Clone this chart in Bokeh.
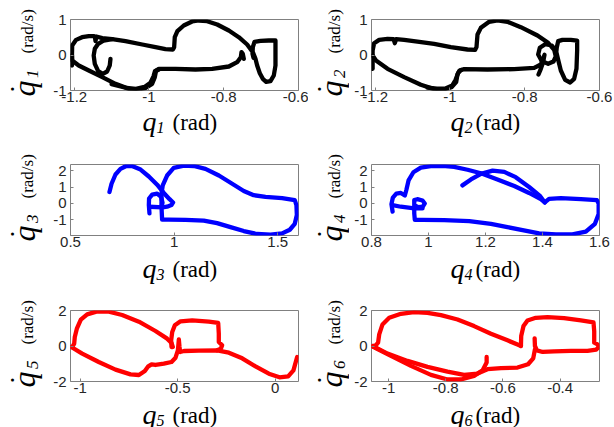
import math
from bokeh.plotting import figure
from bokeh.models import Range1d, FixedTicker, Label
from bokeh.layouts import column, row
from bokeh.embed import file_html
from bokeh.resources import INLINE

# ---------------- data ----------------
q1_a = [-1.206, -1.206, -1.2055, -1.195, -1.179, -1.161, -1.148, -1.145, -1.143, -1.141, -1.125, -1.0985,
        -1.063, -1.018, -0.9826, -0.956, -0.936, -0.9327, -0.931, -0.924, -0.907, -0.8845, -0.8667, -0.8444,
        -0.8176, -0.7864, -0.7597, -0.7374, -0.7222, -0.7151, -0.7106, -0.7035, -0.6955, -0.6865, -0.675,
        -0.6661, -0.6616, -0.6616, -0.6794, -0.7017, -0.7178, -0.7222, -0.7231, -0.7204]
dq1_a = [-0.296, 0.033, 0.268, 0.427, 0.502, 0.531, 0.531, 0.521, 0.39, 0.521, 0.474, 0.446, 0.39, 0.296,
         0.221, 0.164, 0.155, 0.221, 0.502, 0.671, 0.831, 0.944, 0.972, 0.953, 0.859, 0.69, 0.502, 0.296,
         0.08, -0.108, -0.296, -0.512, -0.671, -0.756, -0.737, -0.577, -0.296, 0.408, 0.408, 0.399, 0.371,
         0.221, 0.033, -0.08]
q1_b = [-1.206, -1.2055, -1.188, -1.161, -1.125, -1.0896, -1.054, -1.0317, -1.009, -0.9915, -0.9844, -0.981,
        -0.9737, -0.929, -0.8756, -0.831, -0.7864, -0.7641, -0.7543, -0.7525, -0.749, -0.7463]
dq1_b = [-0.014, -0.155, -0.296, -0.437, -0.624, -0.812, -0.953, -0.981, -0.925, -0.812, -0.624, -0.437,
         -0.39, -0.39, -0.408, -0.39, -0.324, -0.202, -0.061, 0.08, 0.033, -0.108]
q1_c = [-1.103, -1.105, -1.112, -1.1235, -1.136, -1.145, -1.148, -1.145, -1.136, -1.121, -1.0985]
dq1_c = [-0.108, -0.296, -0.465, -0.531, -0.455, -0.249, -0.014, 0.174, 0.315, 0.408, 0.446]
q1_d = [-1.1, -1.06, -1.035, -1.012, -0.996, -0.988, -0.984, -0.975]
dq1_d = [-0.82, -0.93, -0.955, -0.9, -0.78, -0.6, -0.45, -0.42]

q2_a = [-1.207, -1.207, -1.203, -1.1895, -1.167, -1.151, -1.1476, -1.144, -1.1226, -1.087, -1.0424, -0.9978,
        -0.9532, -0.9327, -0.9291, -0.9264, -0.9175, -0.8952, -0.8729, -0.8462, -0.8105, -0.7659, -0.7374,
        -0.7213, -0.7169, -0.7231, -0.7374, -0.7543, -0.7641, -0.7597, -0.7454, -0.7276, -0.716, -0.7106,
        -0.7035, -0.6919, -0.6785, -0.6678, -0.6616, -0.6598, -0.6598, -0.6767, -0.699, -0.7106, -0.7142, -0.716]
dq2_a = [-0.39, 0.127, 0.333, 0.427, 0.455, 0.446, 0.333, 0.446, 0.427, 0.38, 0.315, 0.221, 0.155, 0.146,
         0.221, 0.577, 0.765, 0.934, 0.972, 0.934, 0.784, 0.549, 0.343, 0.146, -0.042, -0.183, -0.249, -0.174,
         0.014, 0.202, 0.305, 0.268, 0.108, -0.136, -0.437, -0.7, -0.775, -0.671, -0.39, 0.127, 0.408, 0.427,
         0.427, 0.39, 0.221, 0.033]
q2_b = [-1.207, -1.198, -1.167, -1.1226, -1.078, -1.0424, -1.0156, -0.996, -0.9835, -0.98, -0.9746, -0.9621,
        -0.8997, -0.8283, -0.7748, -0.757, -0.7499, -0.7472, -0.7508, -0.757, -0.7632]
dq2_b = [-0.014, -0.155, -0.39, -0.624, -0.84, -0.962, -0.972, -0.906, -0.765, -0.549, -0.437, -0.399,
         -0.408, -0.399, -0.362, -0.268, -0.08, 0.005, -0.202, -0.39, -0.549]
q2_d = [-1.06, -1.035, -1.012, -0.994, -0.985, -0.978, -0.97]
dq2_d = [-0.92, -0.95, -0.94, -0.86, -0.7, -0.5, -0.42]

q3_a = [0.688, 0.698, 0.717, 0.741, 0.769, 0.797, 0.838, 0.878, 0.918, 0.95, 0.978, 0.995, 0.987, 0.966,
        0.945, 0.881]
dq3_a = [0.7, 1.2, 1.76, 2.1, 2.28, 2.28, 2.06, 1.64, 1.14, 0.64, 0.26, 0.06, -0.1, -0.2, -0.24, -0.2]
q3_b = [0.881, 0.878, 0.879, 0.894, 0.918, 0.937, 0.944, 0.939]
dq3_b = [-0.6, -0.1, 0.3, 0.54, 0.6, 0.4, 0.04, -0.2]
q3_c = [0.942, 0.939, 0.939, 0.945, 0.966, 0.998, 1.047, 1.095, 1.151, 1.216, 1.28, 1.336, 1.384, 1.441,
        1.521, 1.582, 1.59, 1.592, 1.582, 1.558, 1.521, 1.465, 1.4, 1.336, 1.272, 1.207, 1.143, 1.055,
        0.974, 0.942]
dq3_c = [-0.98, -0.2, 0.6, 1.1, 1.7, 2.16, 2.3, 2.28, 2.1, 1.7, 1.2, 0.76, 0.5, 0.4, 0.32, 0.2, -0.1, -0.7,
         -1.24, -1.6, -1.82, -1.9, -1.86, -1.68, -1.44, -1.2, -1.04, -1.0, -0.98, -0.98]

q4_a = [0.874, 0.870, 0.875, 0.887, 0.903, 0.917, 0.922, 0.93, 0.947, 0.973, 1.008, 1.049, 1.09, 1.137,
        1.184, 1.242, 1.301, 1.353, 1.394, 1.408, 1.423, 1.464, 1.535, 1.591, 1.597, 1.597, 1.584, 1.552,
        1.505, 1.447, 1.388, 1.33, 1.277, 1.219, 1.143, 1.055, 0.979, 0.952, 0.95, 0.95, 0.961, 0.979,
        0.987, 0.98, 0.964, 0.952]
dq4_a = [-0.5, -0.04, 0.36, 0.6, 0.64, 0.48, 0.8, 1.4, 1.9, 2.18, 2.27, 2.28, 2.22, 2.05, 1.84, 1.46,
         1.06, 0.64, 0.26, 0.06, 0.28, 0.32, 0.26, 0.2, 0.0, -0.64, -1.24, -1.72, -1.88, -1.88, -1.82,
         -1.62, -1.44, -1.24, -1.08, -1.02, -1.0, -1.0, -0.6, 0.2, 0.26, 0.18, 0.0, -0.2, -0.22, -0.12]
q4_b = [1.119, 1.149, 1.184, 1.225, 1.266, 1.306, 1.353, 1.392, 1.408]
dq4_b = [1.1, 1.46, 1.8, 2.0, 1.92, 1.6, 1.0, 0.44, 0.06]
q4_c = [0.874, 0.903, 0.95, 0.979]
dq4_c = [-0.1, -0.2, -0.3, -0.3]

q5_a = [-1.046, -1.038, -1.031, -1.028, -1.0175, -0.997, -0.9645, -0.913, -0.853, -0.785, -0.699, -0.614,
        -0.554, -0.5317, -0.525]
dq5_a = [-0.056, 0.0, 0.131, 0.507, 0.977, 1.484, 1.784, 1.953, 1.934, 1.746, 1.371, 0.845, 0.413, 0.169,
         -0.056]
q5_b = [-0.5317, -0.5334, -0.528, -0.5146, -0.4855, -0.4256, -0.34, -0.292, -0.289, -0.289, -0.2717,
        -0.2785, -0.2973]
dq5_b = [-0.056, 0.319, 0.789, 1.164, 1.39, 1.446, 1.371, 1.296, 0.695, 0.225, 0.038, -0.15, -0.244]
q5_c = [-1.046, -0.99, -0.905, -0.819, -0.742, -0.699, -0.6685, -0.651, -0.634, -0.614, -0.571, -0.5317,
        -0.511, -0.499, -0.494, -0.4906, -0.4872, -0.468, -0.3914, -0.2973, -0.2375, -0.169, -0.1006,
        -0.032, 0.0225, 0.067, 0.094, 0.113]
dq5_c = [-0.056, -0.432, -0.901, -1.333, -1.596, -1.634, -1.408, -1.146, -1.033, -1.07, -0.995, -0.901,
         -0.657, -0.244, 0.376, -0.056, -0.338, -0.282, -0.263, -0.244, -0.376, -0.695, -1.146, -1.559,
         -1.765, -1.709, -1.371, -0.62]

q6_a = [-1.056, -1.045, -1.037, -1.033, -1.0215, -0.998, -0.957, -0.911, -0.864, -0.817, -0.759, -0.701,
        -0.642, -0.584, -0.551, -0.537]
dq6_a = [0.0, 0.037, 0.187, 0.654, 1.215, 1.589, 1.813, 1.907, 1.869, 1.738, 1.495, 1.121, 0.692, 0.318,
         0.093, 0.0]
q6_b = [-0.537, -0.536, -0.528, -0.514, -0.485, -0.444, -0.386, -0.327, -0.283, -0.2805, -0.2805, -0.269,
        -0.265, -0.2735, -0.304, -0.362, -0.421, -0.461, -0.481, -0.488, -0.489]
dq6_b = [0.0, 0.561, 1.121, 1.439, 1.589, 1.626, 1.57, 1.439, 1.327, 0.841, 0.187, 0.093, -0.056, -0.206,
         -0.28, -0.28, -0.299, -0.336, -0.243, 0.0, 0.43]
q6_c = [-1.056, -1.004, -0.934, -0.864, -0.794, -0.736, -0.689, -0.654, -0.607, -0.549, -0.512, -0.494,
        -0.488]
dq6_c = [0.0, -0.43, -0.841, -1.178, -1.439, -1.626, -1.551, -1.308, -1.252, -1.215, -1.028, -0.692, -0.187]
q6_d = [-1.056, -0.992, -0.922, -0.852, -0.794, -0.747, -0.701, -0.671, -0.657, -0.657]
dq6_d = [-0.037, -0.561, -1.121, -1.626, -1.888, -1.888, -1.682, -1.364, -0.935, -0.617]

x_ranges = [(-1.21, -0.6), (-1.21, -0.6), (0.5, 1.6), (0.8, 1.6), (-1.05, 0.12), (-1.06, -0.262)]
y_ranges = [(-1, 1), (-1, 1), (-1.95, 2.37), (-1.95, 2.37), (-2, 2), (-2, 2)]
x_ticks = [[-1.2, -1, -0.8, -0.6], [-1.2, -1, -0.8, -0.6], [0.5, 1, 1.5], [0.8, 1, 1.2, 1.4, 1.6],
           [-1, -0.5, 0], [-1, -0.8, -0.6, -0.4]]
y_ticks = [[-1, 0, 1], [-1, 0, 1], [-1, 0, 1, 2], [-1, 0, 1, 2], [-2, 0, 2], [-2, 0, 2]]
subscripts = ["1", "2", "3", "4", "5", "6"]
colors = ["#000000", "#000000", "#0000ff", "#0000ff", "#ff0000", "#ff0000"]
segments = [
    [(q1_a, dq1_a), (q1_b, dq1_b), (q1_c, dq1_c), (q1_d, dq1_d)],
    [(q2_a, dq2_a), (q2_b, dq2_b), (q2_d, dq2_d)],
    [(q3_a, dq3_a), (q3_b, dq3_b), (q3_c, dq3_c)],
    [(q4_a, dq4_a), (q4_b, dq4_b), (q4_c, dq4_c)],
    [(q5_a, dq5_a), (q5_b, dq5_b), (q5_c, dq5_c)],
    [(q6_a, dq6_a), (q6_b, dq6_b), (q6_c, dq6_c), (q6_d, dq6_d)],
]

FRAME_W, FRAME_H = 228, 71
GRAY = "#808080"
TICK_FONT = "Liberation Sans"
SERIF = "Liberation Serif"
SHIFT = 0.26   # em correction of the rendered alphabetic baseline

ROWS = [(19, 20, 30), (24, 20, 30), (25, 20, 26)]
COLS = [(48, 22, 10), (41, 22, 15)]


def fmt(t):
    return "%g" % t


def style_axis(ax, ticks, standoff):
    ax.ticker = FixedTicker(ticks=ticks)
    ax.axis_line_color = None
    ax.major_tick_in = 3
    ax.major_tick_out = 0
    ax.major_tick_line_color = GRAY
    ax.minor_tick_line_color = None
    ax.major_label_standoff = standoff
    ax.major_label_text_font = TICK_FONT
    ax.major_label_text_color = "#262626"
    ax.major_label_overrides = {t: fmt(t) for t in ticks}
    ax.major_label_text_font_size = "15px"


def text_fig(w, h):
    f = figure(width=w, height=h, x_range=Range1d(0, 1), y_range=Range1d(0, 1),
               output_backend="svg", toolbar_location=None, x_axis_location=None, y_axis_location=None,
               min_border_left=0, min_border_right=0, min_border_top=0, min_border_bottom=0)
    f.grid.visible = False
    f.outline_line_color = None
    f.background_fill_color = "white"
    f.border_fill_color = "white"
    return f


def put(f, x, y, text, size, style="normal", angle=0.0, align="left", baseline="alphabetic", font=SERIF):
    f.add_layout(Label(x=x, y=y, x_units="screen", y_units="screen", text=text, text_font=font,
                       text_font_size="%gpx" % size, text_font_style=style, text_color="#000000",
                       text_align=align, text_baseline=baseline, angle=angle))


def plot_fig(i):
    r, c = divmod(i, 2)
    bt, bb, _ = ROWS[r]
    _, bl, br = COLS[c]
    p = figure(width=bl + FRAME_W + br, height=bt + FRAME_H + bb,
               x_range=Range1d(*x_ranges[i]), y_range=Range1d(*y_ranges[i]),
               output_backend="svg", toolbar_location=None,
               min_border_left=bl, min_border_right=br, min_border_top=bt, min_border_bottom=bb)
    p.grid.visible = False
    p.outline_line_color = GRAY
    p.outline_line_width = 1
    p.background_fill_color = "white"
    p.border_fill_color = "white"
    style_axis(p.xaxis[0], x_ticks[i], 1)
    style_axis(p.yaxis[0], y_ticks[i], 4)
    for xs, ys in segments[i]:
        p.line(xs, ys, line_color=colors[i], line_width=4.3, line_join="round", line_cap="round")
    return p


def xlabel_fig(i):
    # the strip's frame is aligned with the plot frame above it (same left/right borders)
    r, c = divmod(i, 2)
    _, bl, br = COLS[c]
    h = ROWS[r][2]
    f = text_fig(bl + FRAME_W + br, h)
    base = [12, 10, 6][r]
    xq, xs_, xr = [(72, 86, 102), (79, 93, 104)][c]
    put(f, xq, base + SHIFT * 28, "q", 28, "italic")
    put(f, xs_, base - 3 + SHIFT * 16, subscripts[i], 16, "italic")
    put(f, xr, base + SHIFT * 23, "(rad)", 23)
    return f


def ylabel_fig(i):
    r, c = divmod(i, 2)
    bt, bb, hx = ROWS[r]
    w = COLS[c][0]
    h = bt + FRAME_H + bb + hx
    f = text_fig(w, h)
    d = h - (bt + FRAME_H / 2.0)
    xq, xs_, xr, xd = [(32, 36, 31, 11.5), (31, 35, 30, 10)][c]
    rot = math.pi / 2
    put(f, xq - SHIFT * 32, d - 41.5, "q", 32, "italic", angle=rot)
    put(f, xs_ - SHIFT * 17, d - 23, subscripts[i], 17, "italic", angle=rot)
    put(f, xr - SHIFT * 17, d + 1.5, "(rad/s)", 17, angle=rot)
    put(f, xd, d - 34, "\u2022", 11, angle=rot, align="center", baseline="middle",
        font="Liberation Sans")
    return f


rows = []
for r in range(3):
    items = []
    for c in range(2):
        i = 2 * r + c
        items.append(ylabel_fig(i))
        items.append(column(plot_fig(i), xlabel_fig(i)))
    rows.append(row(*items))

layout = column(*rows)
open("out.html", "w").write(file_html(layout, INLINE))
